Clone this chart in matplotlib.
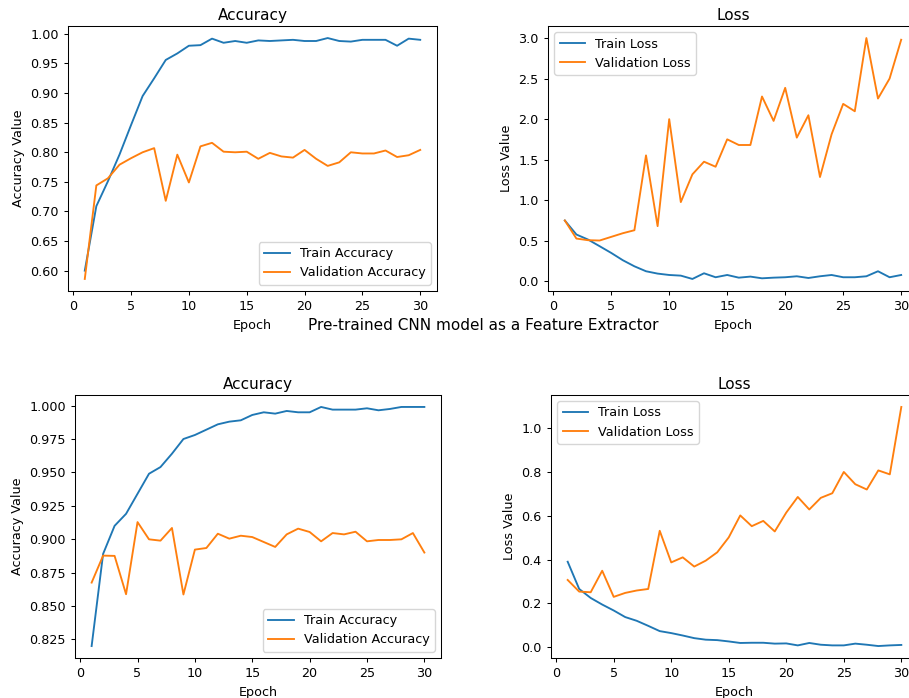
import matplotlib
matplotlib.use("Agg")
import matplotlib.pyplot as plt

epochs = list(range(1, 31))

# top row
top_train_acc = [0.600, 0.709, 0.751, 0.796, 0.846, 0.895, 0.925, 0.956, 0.967, 0.980,
                 0.981, 0.992, 0.985, 0.988, 0.985, 0.989, 0.988, 0.989, 0.990, 0.988,
                 0.988, 0.993, 0.988, 0.987, 0.990, 0.990, 0.990, 0.980, 0.992, 0.990]
top_val_acc = [0.586, 0.744, 0.756, 0.779, 0.790, 0.800, 0.807, 0.718, 0.796, 0.749,
               0.810, 0.816, 0.801, 0.800, 0.801, 0.789, 0.799, 0.793, 0.791, 0.804,
               0.789, 0.777, 0.783, 0.800, 0.798, 0.798, 0.803, 0.792, 0.795, 0.804]
top_train_loss = [0.750, 0.577, 0.515, 0.433, 0.350, 0.260, 0.185, 0.124, 0.095, 0.078,
                  0.070, 0.029, 0.099, 0.050, 0.078, 0.045, 0.058, 0.037, 0.045, 0.050,
                  0.062, 0.041, 0.062, 0.078, 0.050, 0.050, 0.062, 0.124, 0.050, 0.078]
top_val_loss = [0.750, 0.527, 0.507, 0.503, 0.548, 0.593, 0.630, 1.553, 0.680, 2.000,
                0.977, 1.319, 1.475, 1.413, 1.751, 1.681, 1.681, 2.279, 1.978, 2.386,
                1.772, 2.048, 1.286, 1.813, 2.188, 2.097, 3.000, 2.254, 2.500, 2.979]

# bottom row (feature extractor)
fe_train_acc = [0.820, 0.889, 0.910, 0.919, 0.934, 0.949, 0.954, 0.964, 0.975, 0.978,
                0.982, 0.986, 0.988, 0.989, 0.993, 0.995, 0.994, 0.996, 0.995, 0.995,
                0.999, 0.997, 0.997, 0.997, 0.998, 0.9965, 0.9975, 0.999, 0.999, 0.999]
fe_val_acc = [0.8675, 0.8877, 0.8875, 0.8588, 0.9128, 0.8999, 0.8989, 0.9084, 0.8586, 0.8922,
              0.8934, 0.9041, 0.9004, 0.9026, 0.9016, 0.8979, 0.8942, 0.9036, 0.9079, 0.9054,
              0.8984, 0.9046, 0.9036, 0.9056, 0.8984, 0.8994, 0.8994, 0.8999, 0.9046, 0.8900]
fe_train_loss = [0.390, 0.266, 0.225, 0.195, 0.168, 0.138, 0.121, 0.098, 0.074, 0.065,
                 0.054, 0.042, 0.035, 0.033, 0.027, 0.020, 0.021, 0.021, 0.017, 0.018,
                 0.009, 0.020, 0.012, 0.009, 0.009, 0.017, 0.012, 0.006, 0.009, 0.011]
fe_val_loss = [0.307, 0.254, 0.251, 0.349, 0.230, 0.248, 0.259, 0.266, 0.531, 0.387,
               0.410, 0.368, 0.395, 0.433, 0.501, 0.601, 0.552, 0.576, 0.528, 0.614,
               0.685, 0.628, 0.681, 0.702, 0.799, 0.743, 0.719, 0.806, 0.788, 1.095]

fs = 9.2
plt.rcParams["font.size"] = fs
plt.rcParams["axes.titlesize"] = 11
plt.rcParams["axes.titlepad"] = 4.5
plt.rcParams["axes.linewidth"] = 0.75
plt.rcParams["xtick.major.width"] = 0.75
plt.rcParams["ytick.major.width"] = 0.75
plt.rcParams["xtick.major.size"] = 3.2
plt.rcParams["ytick.major.size"] = 3.2
plt.rcParams["lines.linewidth"] = 1.35

W, H = 909, 698
fig = plt.figure(figsize=(W / 100, H / 100), dpi=100)


def box(l, t, r, b):
    return [l / W, 1 - b / H, (r - l) / W, (b - t) / H]


def acc_panel(ax, train, val):
    ax.plot(epochs, train, label="Train Accuracy")
    ax.plot(epochs, val, label="Validation Accuracy")
    ax.set_title("Accuracy")
    ax.set_xlabel("Epoch")
    ax.set_ylabel("Accuracy Value")
    ax.legend(loc="lower right")


def loss_panel(ax, train, val):
    ax.plot(epochs, train, label="Train Loss")
    ax.plot(epochs, val, label="Validation Loss")
    ax.set_title("Loss")
    ax.set_xlabel("Epoch")
    ax.set_ylabel("Loss Value")
    ax.legend(loc="upper left")


ax1 = fig.add_axes(box(68, 26, 437, 291))
acc_panel(ax1, top_train_acc, top_val_acc)
ax2 = fig.add_axes(box(548, 26, 918, 291))
loss_panel(ax2, top_train_loss, top_val_loss)

fig.text(483 / W, 1 - 326 / H, "Pre-trained CNN model as a Feature Extractor",
         ha="center", va="center", fontsize=11)

ax3 = fig.add_axes(box(75, 395, 441, 658))
acc_panel(ax3, fe_train_acc, fe_val_acc)
ax4 = fig.add_axes(box(551, 395, 918, 658))
loss_panel(ax4, fe_train_loss, fe_val_loss)

fig.savefig("out.png", dpi=100)
